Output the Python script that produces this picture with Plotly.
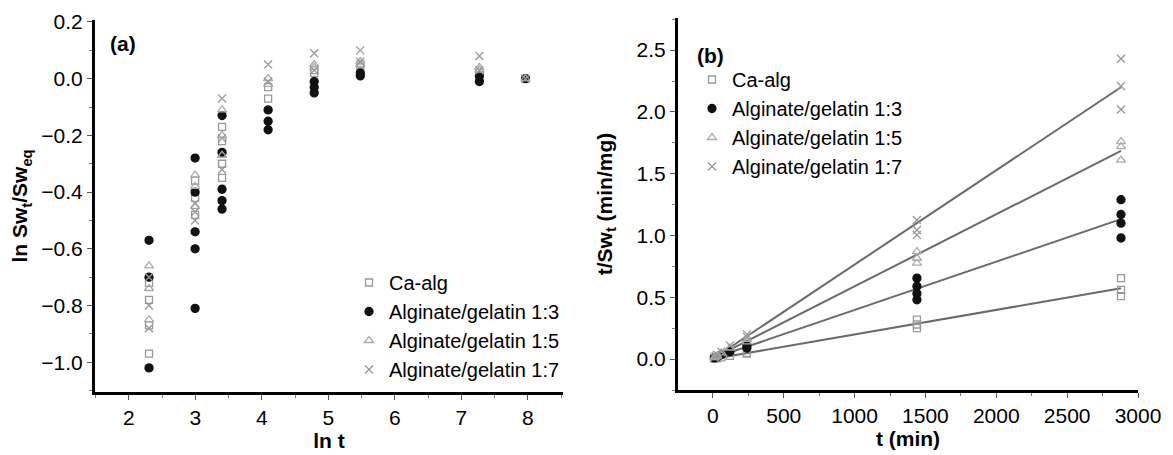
import numpy as np
import plotly.graph_objects as go

# ---------------- data ----------------
series_names = ["Ca-alg", "Alginate/gelatin 1:3", "Alginate/gelatin 1:5", "Alginate/gelatin 1:7"]

# Panel (a): ln(Sw_t/Sw_eq) vs ln t  (time in min, replicates)
a_t_ca = [10, 10, 10, 10, 20, 20, 20, 30, 30, 30, 30, 60, 60, 120, 120, 240, 240, 1440, 1440, 2880]
a_y_ca = [-0.72, -0.78, -0.87, -0.97, -0.36, -0.42, -0.48, -0.17, -0.22, -0.30, -0.35,
          -0.03, -0.07, 0.02, 0.03, 0.04, 0.05, 0.02, 0.00, 0.00]
a_t_13 = [10, 10, 10, 20, 20, 20, 20, 20, 30, 30, 30, 30, 30, 60, 60, 60, 120, 120, 120, 240, 240, 1440, 1440, 2880]
a_y_13 = [-0.57, -0.70, -1.02, -0.28, -0.40, -0.54, -0.60, -0.81, -0.13, -0.26, -0.39, -0.43, -0.46,
          -0.11, -0.15, -0.18, -0.01, -0.03, -0.05, 0.01, 0.02, -0.01, 0.01, 0.00]
a_t_15 = [10, 10, 10, 20, 20, 20, 30, 30, 30, 60, 60, 120, 120, 240, 240, 1440, 1440, 2880]
a_y_15 = [-0.66, -0.74, -0.85, -0.34, -0.38, -0.45, -0.11, -0.20, -0.27, 0.00, -0.02,
          0.04, 0.05, 0.06, 0.05, 0.04, 0.03, 0.00]
a_t_17 = [10, 10, 10, 20, 20, 20, 30, 30, 30, 60, 60, 120, 120, 240, 240, 1440, 1440, 2880]
a_y_17 = [-0.70, -0.80, -0.88, -0.44, -0.47, -0.50, -0.07, -0.21, -0.32, 0.05, -0.01,
          0.09, 0.03, 0.10, 0.06, 0.08, 0.03, 0.00]

# Panel (b): t/Sw_t (min/mg) vs t (min)
b_t_ca = [10, 20, 30, 60, 120, 240, 240, 1440, 1440, 1440, 2880, 2880, 2880]
b_y_ca = [0.004, 0.007, 0.009, 0.014, 0.026, 0.045, 0.05, 0.25, 0.28, 0.32, 0.51, 0.56, 0.655]
b_t_13 = [10, 20, 30, 60, 120, 240, 240, 1440, 1440, 1440, 1440, 2880, 2880, 2880, 2880]
b_y_13 = [0.01, 0.015, 0.02, 0.035, 0.06, 0.09, 0.11, 0.48, 0.53, 0.59, 0.655, 0.98, 1.10, 1.17, 1.29]
b_t_15 = [10, 20, 30, 60, 120, 240, 240, 1440, 1440, 1440, 2880, 2880, 2880]
b_y_15 = [0.012, 0.02, 0.027, 0.05, 0.09, 0.14, 0.16, 0.776, 0.816, 0.87, 1.61, 1.72, 1.76]
b_t_17 = [10, 20, 30, 60, 120, 240, 240, 1440, 1440, 1440, 2880, 2880, 2880]
b_y_17 = [0.015, 0.025, 0.035, 0.06, 0.11, 0.18, 0.20, 1.005, 1.045, 1.126, 2.02, 2.21, 2.43]

# ---------------- styles ----------------
FONT = "Arial, 'Liberation Sans', sans-serif"
FS = 21
LFS = 20
styles = [
    dict(symbol="square-open", color="#9a9a9a", size=7),
    dict(symbol="circle", color="#111111", size=8),
    dict(symbol="triangle-up-open", color="#ababab", size=8),
    dict(symbol="x-thin-open", color="#9a9a9a", size=8, line=dict(width=1.3, color="#9a9a9a")),
]

fig = go.Figure()

a_sets = [(a_t_ca, a_y_ca), (a_t_13, a_y_13), (a_t_15, a_y_15), (a_t_17, a_y_17)]
b_sets = [(b_t_ca, b_y_ca), (b_t_13, b_y_13), (b_t_15, b_y_15), (b_t_17, b_y_17)]

for name, (t, y), st in zip(series_names, a_sets, styles):
    m = dict(st)
    if "line" not in m:
        m["line"] = dict(width=1.3, color=m["color"])
    fig.add_trace(go.Scatter(x=np.log(np.array(t, dtype=float)), y=y, mode="markers", name=name,
                             marker=m, xaxis="x", yaxis="y", legend="legend"))

# fitted lines (panel b) from data
for (t, y) in b_sets:
    tt = np.array(t, dtype=float)
    slope, icpt = np.polyfit(tt, np.array(y), 1)
    xs = np.array([tt.min(), tt.max()])
    fig.add_trace(go.Scatter(x=xs, y=slope * xs + icpt, mode="lines",
                             line=dict(color="#6a6a6a", width=2), showlegend=False,
                             hoverinfo="skip", xaxis="x2", yaxis="y2"))

for name, (t, y), st in zip(series_names, b_sets, styles):
    m = dict(st)
    if "line" not in m:
        m["line"] = dict(width=1.3, color=m["color"])
    fig.add_trace(go.Scatter(x=t, y=y, mode="markers", name=name, marker=m,
                             xaxis="x2", yaxis="y2", legend="legend2"))

W, H = 1173, 455
axis_common = dict(showline=True, mirror=False, linecolor="black", linewidth=3,
                   showgrid=False, zeroline=False,
                   ticks="outside", ticklen=5, tickwidth=1.2, tickcolor="#555",
                   tickfont=dict(family=FONT, size=FS, color="black"))

dom = {"a": dict(x=[95 / W, 563 / W], y=[1 - 392 / H, 1 - 20 / H]),
       "b": dict(x=[678 / W, 1138 / W], y=[1 - 390 / H, 1 - 18 / H])}

fig.update_layout(
    width=W, height=H, autosize=False,
    margin=dict(l=0, r=0, t=0, b=0, pad=0, autoexpand=False),
    paper_bgcolor="white", plot_bgcolor="white",
    font=dict(family=FONT, size=FS, color="black"),
    xaxis=dict(**axis_common, domain=dom["a"]["x"], range=[1.49, 8.53],
               tickvals=[2, 3, 4, 5, 6, 7, 8],
               minor=dict(ticks="outside", ticklen=3, dtick=0.5, tickcolor="#777"),
               title=dict(text="<b>ln t</b>", font=dict(family=FONT, size=FS), standoff=0),
               anchor="y"),
    yaxis=dict(**axis_common, domain=dom["a"]["y"], range=[-1.105, 0.207],
               tickvals=[-1.0, -0.8, -0.6, -0.4, -0.2, 0.0, 0.2], tickformat=".1f",
               minor=dict(ticks="outside", ticklen=3, dtick=0.1, tickcolor="#777"),
               title=dict(text="<b>ln Sw<sub>t</sub>/Sw<sub>eq</sub></b>", font=dict(family=FONT, size=FS),
                          standoff=8),
               anchor="x"),
    xaxis2=dict(**axis_common, domain=dom["b"]["x"], range=[-246, 3000],
                tickvals=[0, 500, 1000, 1500, 2000, 2500, 3000],
                minor=dict(ticks="outside", ticklen=3, dtick=250, tickcolor="#777"),
                title=dict(text="<b>t (min)</b>", font=dict(family=FONT, size=FS), standoff=0),
                anchor="y2"),
    yaxis2=dict(**axis_common, domain=dom["b"]["y"], range=[-0.25, 2.76],
                tickvals=[0, 0.5, 1.0, 1.5, 2.0, 2.5], tickformat=".1f",
                minor=dict(ticks="outside", ticklen=3, dtick=0.25, tickcolor="#777"),
                title=dict(text="<b>t/Sw<sub>t</sub> (min/mg)</b>", font=dict(family=FONT, size=FS),
                           standoff=19),
                anchor="x2"),
    legend=dict(x=565 / W, xanchor="right", y=1 - 263 / H, yanchor="top",
                bgcolor="rgba(0,0,0,0)", font=dict(family=FONT, size=LFS), tracegroupgap=0,
                itemwidth=30),
    legend2=dict(x=692 / W, xanchor="left", y=1 - 60 / H, yanchor="top",
                 bgcolor="rgba(0,0,0,0)", font=dict(family=FONT, size=LFS), tracegroupgap=0,
                 itemwidth=30),
    showlegend=True,
    annotations=[
        dict(text="<b>(a)</b>", x=108 / W, y=1 - 43 / H, xref="paper", yref="paper",
             xanchor="left", yanchor="middle", showarrow=False, font=dict(family=FONT, size=FS)),
        dict(text="<b>(b)</b>", x=695 / W, y=1 - 55 / H, xref="paper", yref="paper",
             xanchor="left", yanchor="middle", showarrow=False, font=dict(family=FONT, size=FS)),
    ],
)

fig.write_html("out.html", config={"responsive": False, "displayModeBar": False},
               post_script="document.body.style.margin='0';document.body.style.overflow='hidden';")
